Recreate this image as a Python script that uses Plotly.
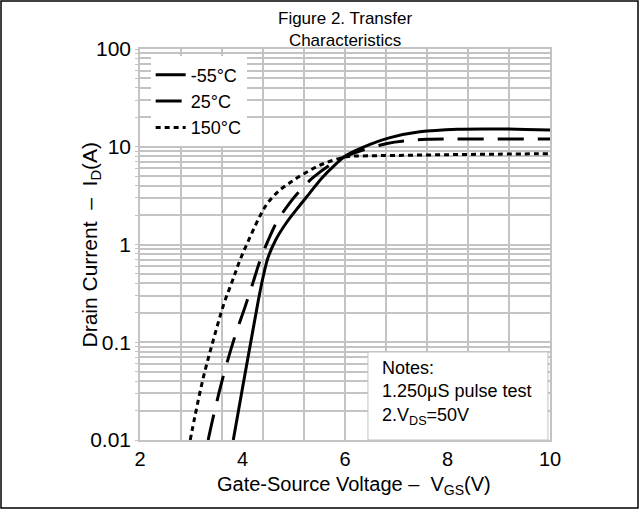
import plotly.graph_objects as go

# Transfer characteristics: drain current vs gate-source voltage at three temperatures
vgs_m55 = [3.82, 4.00, 4.20, 4.31, 4.40, 4.50, 4.65, 4.85, 5.06, 5.30, 5.55, 5.80, 6.03, 6.49, 6.88, 7.46, 8.20, 9.00, 10.0]
id_m55 = [0.01, 0.034, 0.13, 0.27, 0.46, 0.74, 1.12, 1.65, 2.30, 3.30, 4.80, 6.50, 8.20, 10.6, 12.4, 14.2, 15.1, 15.2, 14.8]

vgs_25 = [3.33, 3.43, 3.62, 3.85, 4.05, 4.20, 4.34, 4.50, 4.67, 4.93, 5.12, 5.38, 5.84, 6.23, 6.82, 7.27, 7.60, 8.50, 10.0]
id_25 = [0.01, 0.0173, 0.044, 0.114, 0.23, 0.40, 0.68, 1.10, 1.70, 2.70, 3.55, 4.85, 7.20, 8.80, 10.8, 11.6, 11.9, 12.0, 12.0]

vgs_150 = [2.98, 3.07, 3.24, 3.43, 3.64, 3.80, 3.95, 4.15, 4.34, 4.50, 4.70, 4.93, 5.20, 5.58, 6.03, 6.30, 7.00, 8.00, 9.00, 10.0]
id_150 = [0.01, 0.0173, 0.0445, 0.105, 0.25, 0.42, 0.69, 1.20, 1.95, 2.70, 3.50, 4.30, 5.30, 6.70, 7.90, 8.05, 8.15, 8.30, 8.40, 8.50]

series_names = ["-55°C", "25°C", "150°C"]
x_ticks = [2, 4, 6, 8, 10]
y_decades = [0.01, 0.1, 1, 10, 100]
y_decade_labels = ["0.01", "0.1", "1", "10", "100"]

FONT = "Liberation Sans, Arial, sans-serif"
GRID = "#c3c3c3"

# log grid lines at every 1..9 multiple of each decade; only decades are labelled
y_grid_vals, y_grid_text = [], []
for d, lab in zip(y_decades[:-1], y_decade_labels[:-1]):
    for m in range(1, 10):
        y_grid_vals.append(d * m)
        y_grid_text.append(lab if m == 1 else "")
y_grid_vals.append(y_decades[-1])
y_grid_text.append(y_decade_labels[-1])

fig = go.Figure()
styles = [
    dict(color="black", width=3, dash="solid", shape="spline", smoothing=1.0),
    dict(color="black", width=3, dash="26px,14px", shape="spline", smoothing=1.0),
    dict(color="black", width=3, dash="5px,4px", shape="spline", smoothing=1.0),
]
for name, xs, ys, st in zip(series_names,
                            [vgs_m55, vgs_25, vgs_150],
                            [id_m55, id_25, id_150], styles):
    fig.add_trace(go.Scatter(x=xs, y=ys, mode="lines", name=name, line=st))

fig.update_layout(
    width=640, height=509,
    margin=dict(l=140, r=90, t=49, b=69),
    paper_bgcolor="white", plot_bgcolor="white",
    font=dict(family=FONT, color="black", size=20),
    showlegend=True,
    legend=dict(
        x=0.026, y=0.981, xanchor="left", yanchor="top",
        bgcolor="white", borderwidth=0,
        font=dict(size=18), itemwidth=30, tracegroupgap=0,
    ),
    xaxis=dict(
        range=[2, 10], tickvals=x_ticks, ticks="",
        showgrid=False, zeroline=False,
        showline=True, linecolor=GRID, linewidth=1.5, mirror=True,
        minor=dict(tick0=2, dtick=0.8, showgrid=True, gridcolor=GRID, gridwidth=1.5, ticks=""),
        tickfont=dict(size=20),
    ),
    yaxis=dict(
        type="log", range=[-2, 2],
        tickvals=y_grid_vals, ticktext=y_grid_text,
        ticks="outside", ticklen=3, tickcolor=GRID,
        showgrid=True, gridcolor=GRID, gridwidth=1.5, zeroline=False,
        showline=True, linecolor=GRID, linewidth=1.5, mirror=True,
        tickfont=dict(size=21),
    ),
)

# chart title
fig.add_annotation(
    text="Figure 2. Transfer<br>Characteristics", xref="paper", yref="paper",
    x=0.5, y=0.992, xanchor="center", yanchor="bottom", showarrow=False,
    font=dict(size=17), align="center",
)

# axis titles
fig.add_annotation(
    text="Gate-Source Voltage –  V<sub>GS</sub>(V)", xref="paper", yref="paper",
    x=0.522, y=-0.1175, xanchor="center", yanchor="middle", showarrow=False,
    font=dict(size=20),
)
fig.add_annotation(
    text="Drain Current  –  I<sub>D</sub>(A)", xref="paper", yref="paper",
    x=(90 - 140) / 410, y=0.5, xanchor="center", yanchor="middle", showarrow=False,
    textangle=-90, font=dict(size=21),
)

# notes box
fig.add_shape(type="rect", xref="paper", yref="paper",
              x0=0.556, x1=0.995, y0=0.0, y1=0.225,
              fillcolor="white", line=dict(color=GRID, width=1), layer="above")
fig.add_annotation(
    text="Notes:<br>1.250μS pulse test<br>2.V<sub>DS</sub>=50V",
    xref="paper", yref="paper", x=0.586, y=0.214, xanchor="left", yanchor="top",
    showarrow=False, align="left", font=dict(size=18),
)

# outer frame around the whole figure
fig.add_shape(type="rect", xref="paper", yref="paper",
              x0=(1 - 140) / 410, x1=(638 - 140) / 410,
              y0=(440 - 508) / 391, y1=(440 - 1) / 391,
              line=dict(color="black", width=1.5), fillcolor="rgba(0,0,0,0)")

fig.write_html("out.html")
